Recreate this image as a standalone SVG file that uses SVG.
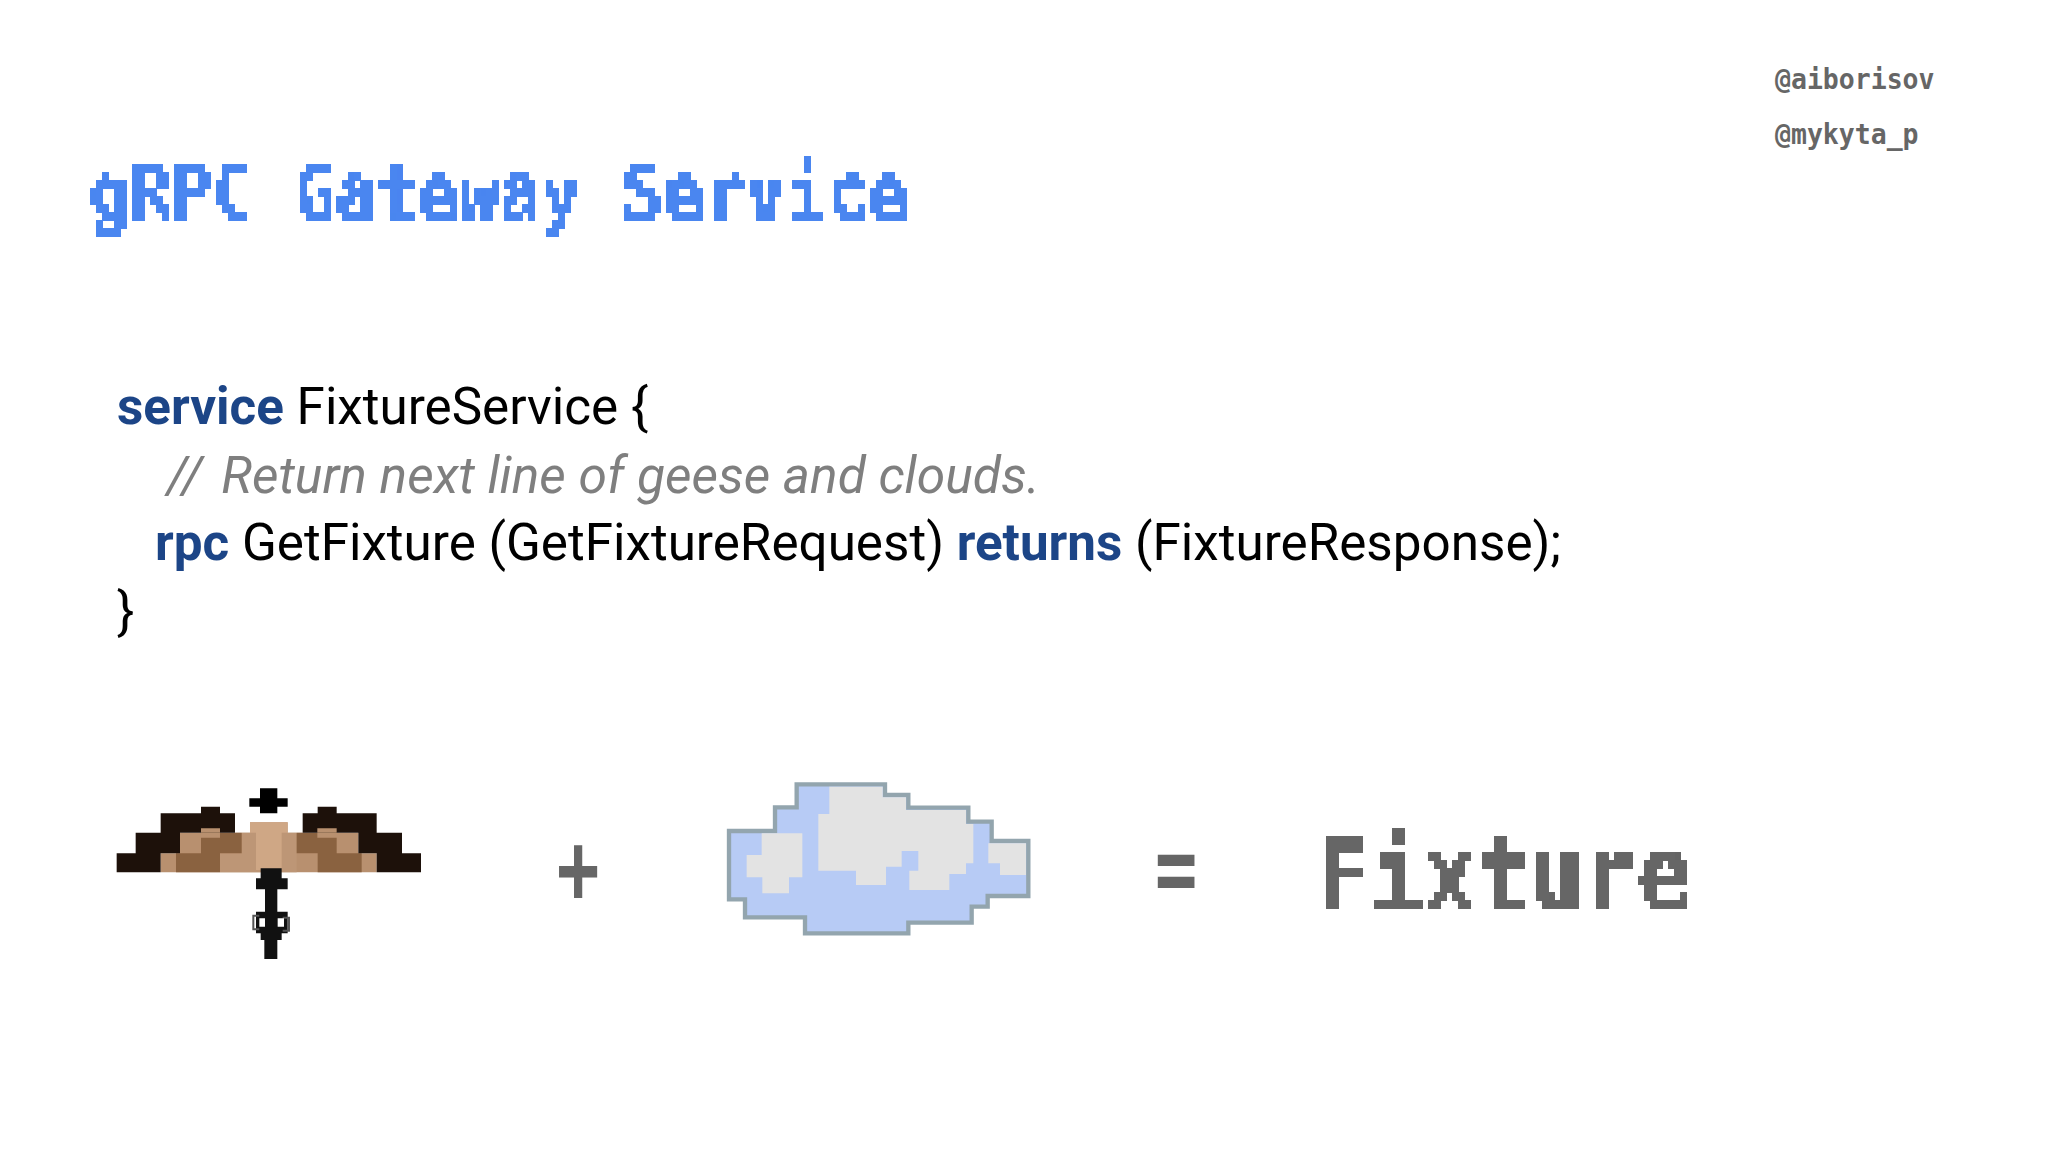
<svg xmlns="http://www.w3.org/2000/svg" width="2048" height="1152" viewBox="0 0 2048 1152">
<style>
.m{font-family:"DejaVu Sans Mono","Liberation Mono",monospace;font-weight:700}
.c{font-family:Roboto,"Liberation Sans",sans-serif;font-size:51.2px;fill:#000}
.k{font-weight:700;fill:#1c4587}
.i{font-style:italic;fill:#7f7f7f;font-size:51.5px}
</style>
<defs>
<filter id="pxL" filterUnits="userSpaceOnUse" primitiveUnits="userSpaceOnUse" x="0" y="100" width="2048" height="1000" color-interpolation-filters="sRGB">
<feFlood x="3" y="104" width="1" height="1" flood-color="#000"/>
<feOffset dx="0" dy="0" x="0" y="100" width="6" height="8"/>
<feTile x="0" y="100" width="2048" height="1000" result="a"/>
<feComposite in="SourceGraphic" in2="a" operator="in"/>
<feMorphology operator="dilate" radius="3 4"/>
<feComponentTransfer><feFuncA type="discrete" tableValues="0 1 1"/></feComponentTransfer>
</filter>
</defs>
<rect width="2048" height="1152" fill="#fff"/>
<g id="title" filter="url(#pxL)"><text class="m" transform="translate(90 219) scale(1 1.12)" font-size="68" fill="#4a86f0">gRPC Gateway Service</text></g>
<g id="handles" fill="#666">
<text class="m" transform="translate(1775 89) scale(1 1.1)" font-size="26.5">@aiborisov</text>
<text class="m" transform="translate(1775 144) scale(1 1.1)" font-size="26.5">@mykyta_p</text>
</g>
<g id="code">
<text class="c" x="117" y="424"><tspan class="k">service</tspan> FixtureService {</text>
<text class="c i" x="167" y="493">// <tspan dx="6">Return next line of geese and clouds.</tspan></text>
<text class="c" x="155" y="560"><tspan class="k">rpc</tspan> GetFixture (GetFixtureRequest) <tspan class="k">returns</tspan> (FixtureResponse);</text>
<text class="c" x="117" y="629">}</text>
</g>
<g id="goose" transform="translate(100 770) scale(.33333)">
<path fill="#b8906f" d="M182 250H240V188H303V175H360V188H450V157H563V188H652V175H710V188H775V250H830V307H182Z"/>
<path fill="#bd9676" d="M425 188H590V307H360V250H425Z"/>
<path fill="#cfa785" d="M450 157H563V188H545V300H468V188H450Z"/>
<path fill="#8a6240" d="M228 307V250H303V203H360V188H425V250H360V307ZM785 307V250H710V203H652V188H590V250H653V307Z"/>
<path fill="#1d110a" d="M50 250H107V188H182V130H303V110H360V130H405V188H240V250H182V307H50ZM963 250H906V188H830V130H710V110H653V130H608V188H775V250H830V307H963Z"/>
<path fill="#b8906f" d="M303 175H360V188H303ZM652 175H710V188H652Z"/>
<path fill="#000" d="M480 55H532V85H563V110H532V130H480V110H448V85H480Z"/>
<path fill="#111" d="M482 295H545V325H563V358H532V425H563V490H545V510H532V567H493V510H482V490H468V425H495V358H468V325H482Z"/>
<path fill="none" stroke="#555" stroke-width="6" d="M478 437H460V478H478M548 443H567V482H548"/>
<path fill="#fff" d="M478 445H495V470H478ZM533 445H552V470H533Z"/>
</g>
<g id="plus-sign"><text class="m" transform="translate(578 902) scale(1 1.37)" font-size="71" text-anchor="middle" fill="#666">+</text></g>
<g id="cloud" transform="translate(710 770) scale(.33333)">
<path fill="#b7cbf5" stroke="#93a5ae" stroke-width="13" d="M57 183H195V112H260V43H525V75H595V113H775V155H845V213H955V378H833V410H785V458H595V490H285V442H105V388H57Z"/>
<path fill="#e3e3e3" d="M358 50H518V82H588V120H768V162H790V280H768V312H718V360H598V302H625V243H575V290H528V345H438V302H325V132H358ZM155 190H277V322H237V370H157V322H110V255H155ZM835 220H948V315H870V280H835Z"/>
</g>
<g id="equals"><text class="m" transform="translate(1176 902) scale(1 1.37)" font-size="71" text-anchor="middle" fill="#666">=</text></g>
<g id="fixture" filter="url(#pxL)"><text class="m" transform="translate(1316 910) scale(1 1.14)" font-size="89" fill="#666">Fixture</text></g>
</svg>
